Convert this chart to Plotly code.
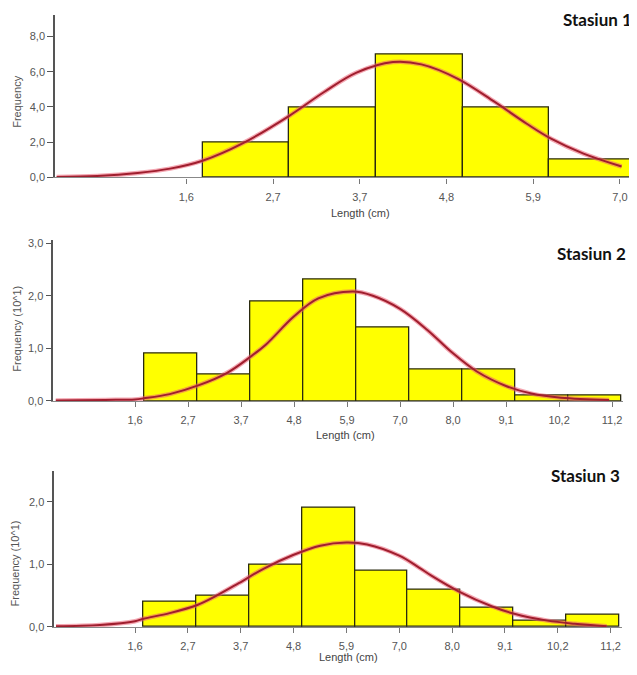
import plotly.graph_objects as go

# ---------------- data ----------------
tick_labels_1 = ["1,6", "2,7", "3,7", "4,8", "5,9", "7,0"]
tick_labels_23 = ["1,6", "2,7", "3,7", "4,8", "5,9", "7,0", "8,0", "9,1", "10,2", "11,2"]
bin_width = 1.07

# Stasiun 1
s1_bin_left = [1.80, 2.87, 3.94, 5.01, 6.08]
s1_freq = [2.0, 4.0, 7.0, 4.0, 1.0]
s1_curve_x = [0.0, 0.5, 1.0, 1.4, 1.8, 2.3, 2.87, 3.3, 3.7, 4.15, 4.5, 4.95, 5.4, 5.8,
              6.1, 6.5, 6.97]
s1_curve_y = [0.03, 0.08, 0.25, 0.5, 0.95, 1.95, 3.5, 4.85, 5.95, 6.55, 6.42, 5.6, 4.3, 3.05,
              2.2, 1.35, 0.62]

# Stasiun 2 (x10^1)
s2_bin_left = [1.78, 2.85, 3.92, 4.99, 6.06, 7.13, 8.20, 9.27, 10.34]
s2_freq = [0.9, 0.5, 1.9, 2.3, 1.4, 0.6, 0.6, 0.1, 0.1]
s2_curve_x = [0.0, 1.0, 1.6, 1.78, 2.3, 2.89, 3.45, 3.93, 4.25, 4.8, 5.3, 6.0, 6.4,
              6.95, 7.5, 8.0, 8.5, 9.1, 9.6, 10.2, 11.17]
s2_curve_y = [0.01, 0.02, 0.03, 0.05, 0.13, 0.3, 0.53, 0.84, 1.08, 1.6, 1.95, 2.08, 2.0,
              1.75, 1.35, 0.92, 0.56, 0.28, 0.14, 0.06, 0.02]

# Stasiun 3 (x10^1)
s3_bin_left = [1.77, 2.84, 3.91, 4.98, 6.05, 7.12, 8.19, 9.26, 10.33]
s3_freq = [0.4, 0.5, 1.0, 1.9, 0.9, 0.6, 0.3, 0.1, 0.2]
s3_curve_x = [0.0, 0.89, 1.6, 1.77, 2.3, 2.86, 3.25, 3.7, 4.2, 4.8, 5.35, 5.88,
              6.3, 6.95, 7.35, 7.6, 8.15, 8.82, 9.28, 9.95, 10.5, 11.15]
s3_curve_y = [0.01, 0.03, 0.09, 0.13, 0.22, 0.35, 0.5, 0.7, 0.93, 1.15, 1.3, 1.35,
              1.32, 1.14, 0.95, 0.82, 0.57, 0.33, 0.21, 0.1, 0.05, 0.01]

titles = ["Stasiun 1", "Stasiun 2", "Stasiun 3"]
y_titles = ["Frequency", "Frequency (10^1)", "Frequency (10^1)"]
x_title = "Length (cm)"

# ---------------- figure ----------------
OFF = 8  # page body margin offset
W, H = 637 - OFF, 675 - OFF

def px_x(p):
    return (p - OFF) / W

def px_y(p):
    return 1 - (p - OFF) / H

panels = [
    dict(bins=s1_bin_left, freq=s1_freq, cx=s1_curve_x, cy=s1_curve_y, labels=tick_labels_1,
         xdom=[px_x(55), 1.0], xr=[-0.02, 7.16], ydom=[px_y(176.7), px_y(12.5)], yr=[0, 9.2], dtick=2,
         title_pos=(634, 17), ytitle_pos=(17, 100), xtitle_pos=(360, 213)),
    dict(bins=s2_bin_left, freq=s2_freq, cx=s2_curve_x, cy=s2_curve_y, labels=tick_labels_23,
         xdom=[px_x(53.3), px_x(623)], xr=[-0.05, 11.45], ydom=[px_y(403.3), px_y(240.6)], yr=[0, 3.05], dtick=1,
         title_pos=(628, 254), ytitle_pos=(17, 330), xtitle_pos=(345, 438)),
    dict(bins=s3_bin_left, freq=s3_freq, cx=s3_curve_x, cy=s3_curve_y, labels=tick_labels_23,
         xdom=[px_x(54.3), px_x(622)], xr=[-0.035, 11.46], ydom=[px_y(632.3), px_y(474)], yr=[0, 2.5], dtick=1,
         title_pos=(622, 479), ytitle_pos=(15, 568), xtitle_pos=(348, 663)),
]

fig = go.Figure()
annotations = []
tick_font = dict(family="Liberation Sans, Arial, sans-serif", size=11, color="#555555")

for i, p in enumerate(panels):
    sfx = "" if i == 0 else str(i + 1)
    xa, ya = "x" + sfx, "y" + sfx
    centers = [b + bin_width / 2 for b in p["bins"]]
    fig.add_trace(go.Bar(x=centers, y=p["freq"], width=bin_width, xaxis=xa, yaxis=ya,
                         marker=dict(color="#FFFF00", line=dict(color="#2a2a10", width=1.3)),
                         showlegend=False, hoverinfo="skip"))
    fig.add_trace(go.Scatter(x=p["cx"], y=p["cy"], mode="lines", xaxis=xa, yaxis=ya,
                             line=dict(color="rgba(235,95,115,0.55)", width=4.5, shape="spline", smoothing=1.0),
                             showlegend=False, hoverinfo="skip"))
    fig.add_trace(go.Scatter(x=p["cx"], y=p["cy"], mode="lines", xaxis=xa, yaxis=ya,
                             line=dict(color="#a01e2e", width=2, shape="spline", smoothing=1.0),
                             showlegend=False, hoverinfo="skip"))
    tickvals = [1.6 + bin_width * k for k in range(len(p["labels"]))]
    fig.update_layout(**{
        "xaxis" + sfx: dict(domain=p["xdom"], range=p["xr"], anchor=ya, tickmode="array",
                            tickvals=tickvals, ticktext=p["labels"], ticks="outside", ticklen=5,
                            tickcolor="#777777", tickwidth=1.2, showline=True, linecolor="#888888",
                            linewidth=1.3, showgrid=False, zeroline=False, tickfont=tick_font,
                            ticklabelstandoff=4, fixedrange=True),
        "yaxis" + sfx: dict(domain=p["ydom"], range=p["yr"], anchor=xa, tick0=0, dtick=p["dtick"],
                            tickformat=".1f", ticks="outside", ticklen=6, tickcolor="#555555",
                            tickwidth=1.3, showline=True, linecolor="#555555", linewidth=1.6,
                            showgrid=False, zeroline=False, tickfont=tick_font, fixedrange=True),
    })
    tx, ty = p["title_pos"]
    annotations.append(dict(text="<b>" + titles[i] + "</b>", x=px_x(tx), y=px_y(ty), xref="paper",
                            yref="paper", xanchor="right", yanchor="middle", showarrow=False,
                            font=dict(family="Lato, sans-serif", size=17, color="#111111")))
    yx, yy = p["ytitle_pos"]
    annotations.append(dict(text=y_titles[i], x=px_x(yx), y=px_y(yy), xref="paper", yref="paper",
                            xanchor="center", yanchor="middle", textangle=-90, showarrow=False,
                            font=dict(family="Liberation Sans, Arial, sans-serif", size=11, color="#555555")))
    xx, xy = p["xtitle_pos"]
    annotations.append(dict(text=x_title, x=px_x(xx), y=px_y(xy), xref="paper", yref="paper",
                            xanchor="center", yanchor="middle", showarrow=False,
                            font=dict(family="Liberation Sans, Arial, sans-serif", size=11, color="#444444")))

fig.update_layout(width=W, height=H, margin=dict(l=0, r=0, t=0, b=0), separators=", ",
                  paper_bgcolor="white", plot_bgcolor="white", bargap=0, annotations=annotations)

fig.write_html("out.html")
